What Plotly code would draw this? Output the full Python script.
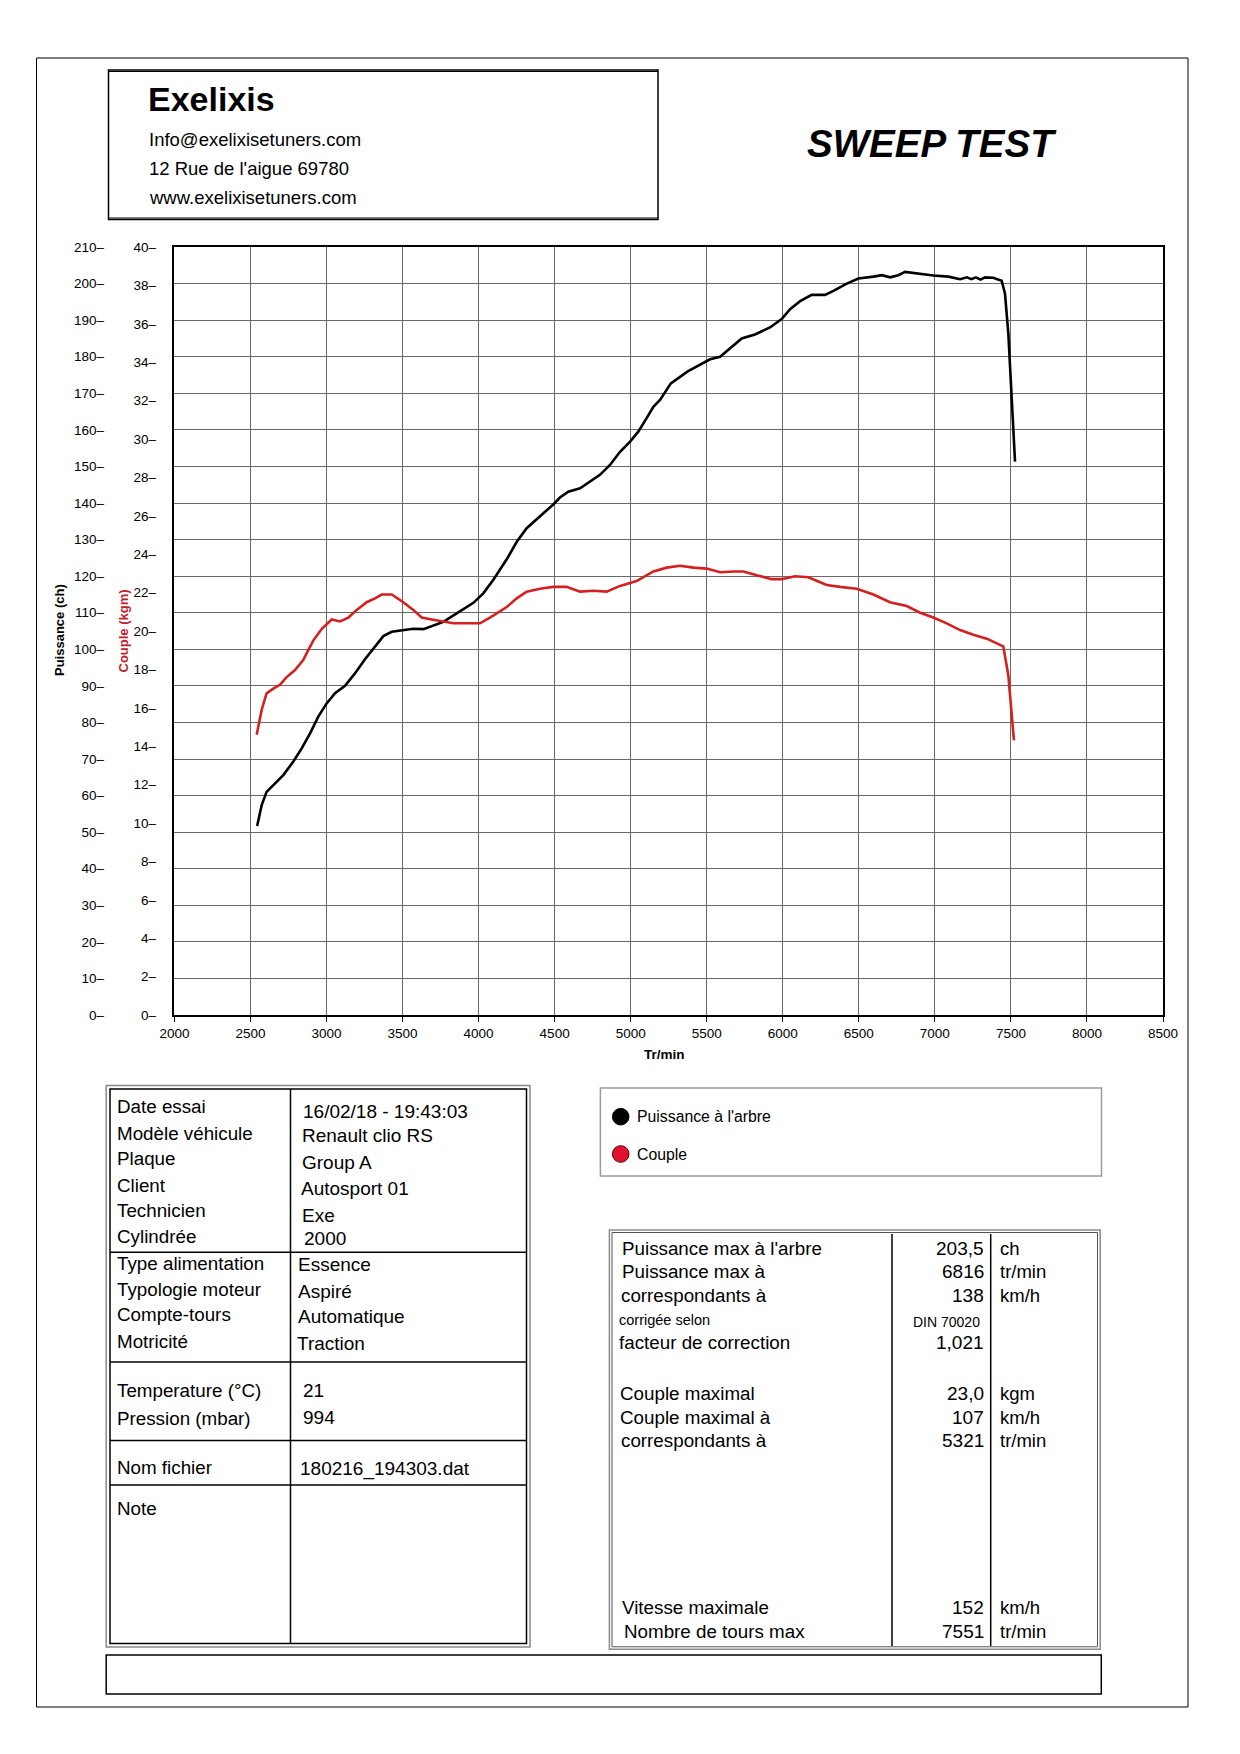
import plotly.graph_objects as go

W, H = 1240, 1754

# ---------------- data ----------------
rpm_power = [2544, 2558, 2574, 2606, 2650, 2716, 2782, 2837, 2892, 2946, 3001, 3056, 3122, 3187,
             3253, 3319, 3374, 3429, 3505, 3571, 3637, 3703, 3768, 3856, 3966, 4031, 4097, 4185,
             4251, 4316, 4404, 4491, 4535, 4590, 4667, 4733, 4798, 4864, 4930, 4996, 5050, 5105,
             5149, 5193, 5264, 5375, 5456, 5522, 5588, 5664, 5730, 5817, 5916, 5993, 6048, 6114,
             6190, 6278, 6333, 6421, 6497, 6596, 6651, 6706, 6760, 6804, 6881, 6990, 7089, 7166,
             7210, 7240, 7270, 7300, 7330, 7383, 7439, 7461, 7483, 7505, 7527]
power_ch = [51.7, 54.2, 57.4, 61.0, 62.9, 65.6, 69.3, 72.9, 77.0, 81.6, 85.2, 88.0, 90.0, 93.4,
            97.3, 100.9, 103.6, 104.8, 105.3, 105.6, 105.5, 106.4, 107.5, 109.8, 112.7, 115.3, 119.0, 124.6,
            129.4, 133.1, 136.3, 139.6, 141.5, 143.1, 144.0, 145.8, 147.7, 150.4, 154.0, 156.8, 159.5, 163.2,
            166.3, 168.2, 172.7, 176.0, 177.7, 179.3, 180.0, 182.7, 185.0, 186.1, 188.0, 190.3, 193.0, 195.2,
            196.9, 196.9, 198.0, 200.0, 201.4, 201.9, 202.3, 201.7, 202.3, 203.2, 202.8, 202.2, 201.9, 201.2,
            201.7, 201.2, 201.7, 201.1, 201.7, 201.6, 200.8, 197.3, 186.4, 168.2, 151.3]

rpm_torque = [2541, 2558, 2574, 2606, 2650, 2694, 2738, 2793, 2848, 2880, 2913, 2968, 3034, 3089,
              3144, 3199, 3264, 3319, 3363, 3429, 3505, 3571, 3626, 3692, 3768, 3834, 3922, 4009,
              4075, 4185, 4251, 4316, 4404, 4491, 4579, 4667, 4754, 4842, 4930, 5039, 5149, 5237,
              5324, 5412, 5500, 5588, 5675, 5741, 5829, 5927, 5993, 6080, 6168, 6201, 6289, 6377,
              6486, 6596, 6705, 6815, 6903, 6990, 7078, 7166, 7253, 7341, 7428, 7450, 7483, 7505, 7520]
torque_kgm = [14.6, 15.2, 15.9, 16.75, 17.0, 17.2, 17.6, 17.97, 18.5, 19.0, 19.5, 20.1, 20.6, 20.5,
              20.7, 21.1, 21.5, 21.7, 21.9, 21.9, 21.5, 21.1, 20.7, 20.6, 20.5, 20.4, 20.4, 20.4,
              20.7, 21.25, 21.7, 22.05, 22.2, 22.3, 22.3, 22.05, 22.1, 22.05, 22.35, 22.6, 23.1, 23.3,
              23.4, 23.3, 23.25, 23.06, 23.1, 23.1, 22.9, 22.7, 22.7, 22.85, 22.8, 22.7, 22.4, 22.3,
              22.2, 21.9, 21.5, 21.3, 20.95, 20.7, 20.4, 20.05, 19.8, 19.6, 19.3, 19.2, 17.7, 15.5, 14.3]

x_ticks = list(range(2000, 8501, 500))
power_ticks = list(range(0, 211, 10))
torque_ticks = list(range(0, 41, 2))

header_lines = ["Info@exelixisetuners.com", "12 Rue de l'aigue 69780", "www.exelixisetuners.com"]

info_labels = ["Date essai", "Modèle véhicule", "Plaque", "Client", "Technicien", "Cylindrée",
               "Type alimentation", "Typologie moteur", "Compte-tours", "Motricité",
               "Temperature (°C)", "Pression (mbar)", "Nom fichier", "Note"]
info_values = ["16/02/18 - 19:43:03", "Renault clio RS", "Group A", "Autosport 01", "Exe", "2000",
               "Essence", "Aspiré", "Automatique", "Traction", "21", "994", "180216_194303.dat"]

result_labels = ["Puissance max à l'arbre", "Puissance max à", "correspondants à", "corrigée selon",
                 "facteur de correction", "Couple maximal", "Couple maximal à", "correspondants à",
                 "Vitesse maximale", "Nombre de tours max"]
result_values = ["203,5", "6816", "138", "DIN 70020", "1,021", "23,0", "107", "5321", "152", "7551"]
result_units = ["ch", "tr/min", "km/h", "", "", "kgm", "km/h", "tr/min", "km/h", "tr/min"]

legend_names = ["Puissance à l'arbre", "Couple"]

# ---------------- layout helpers ----------------
def px(x):
    return x / W

def py(y):
    return 1 - y / H

FONT = "Liberation Sans, Arial, sans-serif"
RED = "#d42020"

fig = go.Figure()
fig.add_trace(go.Scatter(x=rpm_power, y=power_ch, mode="lines", yaxis="y",
                         line=dict(color="black", width=2.6), name=legend_names[0]))
fig.add_trace(go.Scatter(x=rpm_torque, y=torque_kgm, mode="lines", yaxis="y2",
                         line=dict(color=RED, width=2.6), name=legend_names[1]))

PL, PR, PT, PB = 174.4, 1163, 247, 1015
grid_col = "#6a6a6a"

fig.update_layout(
    template="none",
    width=W, height=H, margin=dict(l=0, r=0, t=0, b=0, pad=0, autoexpand=False),
    paper_bgcolor="white", plot_bgcolor="white", showlegend=False,
    font=dict(family=FONT, color="black"),
    xaxis=dict(domain=[px(PL), px(PR)], range=[2000, 8500], tickvals=x_ticks,
               ticktext=[str(v) for v in x_ticks], automargin=False,
               showgrid=True, gridcolor=grid_col, gridwidth=1, zeroline=False,
               showline=True, linecolor="black", linewidth=1.5, mirror=True,
               ticks="outside", ticklen=5, tickcolor="black", tickwidth=1,
               tickfont=dict(size=13.5, color="black")),
    yaxis=dict(domain=[py(PB), py(PT)], range=[0, 210], tickvals=power_ticks,
               ticktext=[f"{v}–" for v in power_ticks], automargin=False,
               anchor="free", position=px(104), side="left",
               showgrid=True, gridcolor=grid_col, gridwidth=1, zeroline=False, showline=False,
               ticks="", tickfont=dict(size=13.5, color="black")),
    yaxis2=dict(range=[0, 40], tickvals=torque_ticks, ticktext=[f"{v}–" for v in torque_ticks],
                overlaying="y", automargin=False,
                anchor="x", side="left", showgrid=False, zeroline=False,
                showline=True, linecolor="black", linewidth=1.5, mirror=True,
                ticks="", ticklabelstandoff=14, tickfont=dict(size=13.5, color="black")),
)

shapes = []
def rect(x0, y0, x1, y1, color="black", width=1.5, fill=None):
    shapes.append(dict(type="rect", xref="paper", yref="paper", x0=px(x0), x1=px(x1),
                       y0=py(y1), y1=py(y0), line=dict(color=color, width=width),
                       fillcolor=fill if fill else "rgba(0,0,0,0)", layer="above"))

def line(x0, y0, x1, y1, color="black", width=1.5):
    shapes.append(dict(type="line", xref="paper", yref="paper", x0=px(x0), x1=px(x1),
                       y0=py(y0), y1=py(y1), line=dict(color=color, width=width), layer="above"))

def circle(cx, cy, r, fill, border):
    shapes.append(dict(type="circle", xref="paper", yref="paper", x0=px(cx - r), x1=px(cx + r),
                       y0=py(cy + r), y1=py(cy - r), fillcolor=fill,
                       line=dict(color=border, width=1), layer="above"))

# page border
rect(36.5, 58, 1188, 1707, width=1)
# header box
rect(108.5, 70, 658, 219.5, width=1.5)
line(108.5, 71.5, 658, 71.5, width=1)
line(108.5, 218, 658, 218, width=1)
# info table
rect(106.2, 1085.6, 530, 1647, color="#8a8a8a", width=1.5)
rect(110, 1089, 526.5, 1643.5, width=1.5)
line(290.5, 1089, 290.5, 1643.5)
for yy in [1252.3, 1362, 1440.5, 1485]:
    line(110, yy, 526.5, yy)
# legend box
rect(600.4, 1088, 1101.5, 1176, color="#9a9a9a", width=1.5)
circle(620.7, 1116.7, 8.3, "black", "black")
circle(620.7, 1154.0, 8.3, "#e3112f", "#5a0000")
# results table
rect(609.4, 1230, 1100.2, 1649.3, color="#8a8a8a", width=1.5)
rect(612, 1232.5, 1097.5, 1646.8, color="#555555", width=1)
line(892, 1234, 892, 1646, width=1.5)
line(990.7, 1234, 990.7, 1646, width=1.5)
# bottom box
rect(106.2, 1655, 1101.3, 1694, width=1.5)

ann = []
def text(x, y, s, size, anchor="left", bold=False, italic=False, color="black"):
    t = s
    if bold:
        t = "<b>" + t + "</b>"
    if italic:
        t = "<i>" + t + "</i>"
    ann.append(dict(x=px(x), y=py(y), xref="paper", yref="paper", text=t, showarrow=False,
                    xanchor=anchor, yanchor="middle",
                    font=dict(family=FONT, size=size, color=color)))

# header
text(146, 99, "Exelixis", 34, bold=True)
for s, yy in zip(header_lines, [140, 169, 197]):
    text(147, yy, s, 18.5)
text(932, 143, "SWEEP TEST", 38.5, anchor="center", bold=True, italic=True)

# axis titles
ann.append(dict(x=px(59), y=py(630), xref="paper", yref="paper", text="<b>Puissance (ch)</b>",
                showarrow=False, textangle=-90, xanchor="center", yanchor="middle",
                font=dict(family=FONT, size=13, color="black")))
ann.append(dict(x=px(122.5), y=py(631), xref="paper", yref="paper", text="<b>Couple (kgm)</b>",
                showarrow=False, textangle=-90, xanchor="center", yanchor="middle",
                font=dict(family=FONT, size=13, color="#c0202a")))
text(664, 1054, "Tr/min", 13.5, anchor="center", bold=True)

# info table texts
lab_y = [1106.6, 1133.7, 1158.4, 1185.5, 1210.2, 1236.9, 1263.9, 1289, 1314.6, 1341.6,
         1390.4, 1418.5, 1467.4, 1508.8]
for s, yy in zip(info_labels, lab_y):
    text(114.5, yy, s, 18.8)
val_y = [1111.5, 1135.5, 1162.1, 1188, 1215.8, 1238, 1264.6, 1291.6, 1316.8, 1343.4,
         1390.4, 1417.4, 1469.2]
val_x = [300.5, 299.5, 300, 299, 300, 302, 295.5, 295.5, 295.5, 295, 300.5, 300.5, 298]
for s, xx, yy in zip(info_values, val_x, val_y):
    text(xx, yy, s, 19)

# legend texts
text(635, 1116.7, legend_names[0], 15.8)
text(635, 1154.0, legend_names[1], 15.8)

# results table texts
res_y = [1248.3, 1271.7, 1295, 1320, 1342.7, 1393.3, 1417.3, 1440.7, 1607.3, 1631]
res_x = [619.5, 619.5, 618.5, 616.5, 617, 618, 618, 618.5, 619.5, 622]
for i, (s, xx, yy) in enumerate(zip(result_labels, res_x, res_y)):
    text(xx, yy, s, 14.5 if i == 3 else 18.8)
for i, (s, yy) in enumerate(zip(result_values, res_y)):
    if i == 3:
        text(982, yy + 1.7, s, 14, anchor="right")
    else:
        text(986, yy, s, 19, anchor="right")
for s, yy in zip(result_units, res_y):
    if s:
        text(998, yy, s, 18.5)

fig.update_layout(shapes=shapes, annotations=ann)

fig.write_html("out.html", config={"displayModeBar": False},
               post_script="document.body.style.margin='0px';document.body.style.overflow='hidden';")
